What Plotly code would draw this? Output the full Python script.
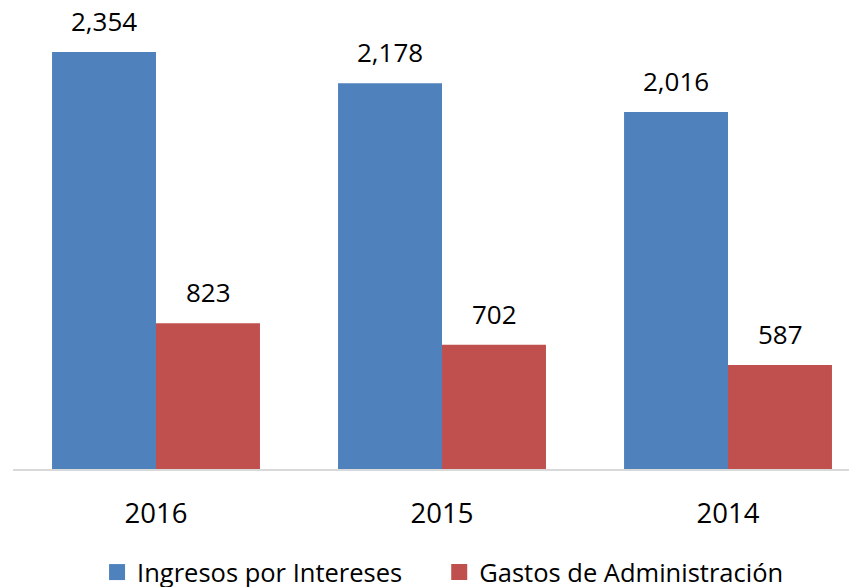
import plotly.graph_objects as go

categories = ["2016", "2015", "2014"]
ingresos = [2354, 2178, 2016]
gastos = [823, 702, 587]
series_names = ["Ingresos por Intereses", "Gastos de Administración"]
colors = ["#4F81BD", "#C0504D"]

FONT = "Open Sans"
fig = go.Figure()
series = [ingresos, gastos]
for k, (name, vals, col) in enumerate(zip(series_names, series, colors)):
    fig.add_trace(go.Bar(x=categories, y=vals, name=name, showlegend=False,
                         marker=dict(color=col, line=dict(width=0))))
    fig.add_trace(go.Scatter(x=[None], y=[None], mode="markers", name=name,
                             marker=dict(symbol="square", size=17, color=col),
                             legend="legend" if k == 0 else "legend2"))

annotations = []
offsets = [-0.182, 0.182]
for j, vals in enumerate(series):
    for i, v in enumerate(vals):
        annotations.append(dict(
            x=i + offsets[j], y=v, xref="x", yref="y", text=f"{v:,}",
            showarrow=False, yanchor="middle", yshift=31,
            font=dict(family=FONT, size=26, color="#000000")))

fig.update_layout(
    width=849, height=579,
    margin=dict(l=5, r=0, t=0, b=118, autoexpand=False),
    paper_bgcolor="white", plot_bgcolor="white",
    barmode="group", bargap=0.273, bargroupgap=0,
    font=dict(family=FONT, size=26, color="#000000"),
    xaxis=dict(type="category", range=[-0.5, 2.451], showline=True, linecolor="#D9D9D9", linewidth=2,
               ticks="", ticklabelstandoff=19, showgrid=False, automargin=False,
               tickfont=dict(family=FONT, size=27.5, color="#000000")),
    yaxis=dict(range=[0, 2603], visible=False, showgrid=False, automargin=False),
    legend=dict(orientation="h", x=0.0996, xanchor="left", y=-0.2245, yanchor="middle",
                font=dict(family=FONT, size=25.5, color="#000000"), itemwidth=30,
                bgcolor="rgba(0,0,0,0)"),
    legend2=dict(orientation="h", x=0.505, xanchor="left", y=-0.2245, yanchor="middle",
                 font=dict(family=FONT, size=25.5, color="#000000"), itemwidth=30,
                 bgcolor="rgba(0,0,0,0)"),
    annotations=annotations,
)
fig.write_html("out.html")
